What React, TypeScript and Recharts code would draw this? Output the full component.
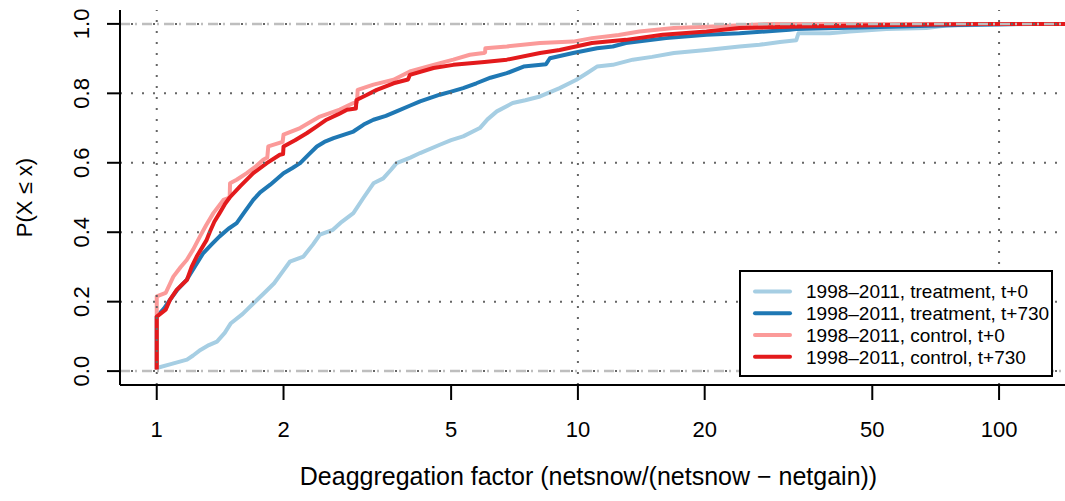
import React from 'react';
import { LineChart, Line, XAxis, YAxis, ReferenceLine, Legend } from 'recharts';

// ---------- data ----------
const treatT0X = [1, 1.08, 1.18, 1.22, 1.27, 1.33, 1.39, 1.45, 1.5, 1.6, 1.7, 1.8, 1.9, 2.0, 2.07, 2.23, 2.35, 2.44, 2.62, 2.75, 2.93, 3.1, 3.27, 3.45, 3.6, 3.71, 4.0, 4.22, 4.7, 5.0, 5.34, 5.85, 6.1, 6.42, 7.0, 7.5, 8.13, 9.05, 9.92, 10.5, 11.1, 12.1, 13.5, 15, 16.9, 20.2, 24.2, 27, 30.2, 33.0, 33.4, 39.6, 44.2, 54, 67.2, 75, 120, 150];
const treatT0P = [0.009, 0.02, 0.033, 0.045, 0.061, 0.075, 0.085, 0.11, 0.138, 0.165, 0.196, 0.225, 0.253, 0.29, 0.315, 0.33, 0.365, 0.393, 0.407, 0.43, 0.455, 0.5, 0.541, 0.555, 0.58, 0.599, 0.615, 0.628, 0.652, 0.665, 0.676, 0.7, 0.725, 0.748, 0.772, 0.78, 0.791, 0.815, 0.839, 0.858, 0.877, 0.882, 0.897, 0.905, 0.916, 0.925, 0.935, 0.94, 0.948, 0.953, 0.973, 0.973, 0.978, 0.985, 0.988, 0.995, 1.0, 1.0];

const treatT730X = [1, 1, 1.04, 1.075, 1.12, 1.178, 1.23, 1.29, 1.35, 1.41, 1.48, 1.548, 1.62, 1.695, 1.76, 1.86, 2.0, 2.1, 2.19, 2.3, 2.4, 2.5, 2.63, 2.93, 3.1, 3.27, 3.5, 3.71, 4.0, 4.22, 4.7, 5.0, 5.34, 5.74, 6.2, 6.78, 7.43, 8.4, 8.58, 9.74, 11.1, 12.1, 13.0, 16.2, 20.2, 24.2, 31.8, 33, 55, 80, 110, 150];
const treatT730P = [0.005, 0.157, 0.18, 0.205, 0.235, 0.263, 0.3, 0.34, 0.365, 0.388, 0.41, 0.426, 0.46, 0.493, 0.515, 0.537, 0.57, 0.585, 0.599, 0.625, 0.647, 0.66, 0.671, 0.69, 0.71, 0.724, 0.735, 0.748, 0.765, 0.777, 0.796, 0.805, 0.815, 0.829, 0.845, 0.858, 0.877, 0.884, 0.901, 0.916, 0.93, 0.935, 0.945, 0.959, 0.969, 0.973, 0.983, 0.985, 0.992, 0.997, 1.0, 1.0];

const ctrlT0X = [1, 1, 1.05, 1.095, 1.14, 1.178, 1.22, 1.267, 1.31, 1.363, 1.44, 1.49, 1.493, 1.548, 1.636, 1.72, 1.79, 1.83, 1.84, 1.99, 2.0, 2.19, 2.3, 2.44, 2.72, 2.93, 2.99, 3.0, 3.27, 3.65, 3.99, 4.54, 5.06, 5.54, 5.97, 6.02, 6.03, 6.78, 8.13, 9.74, 10.8, 12.5, 14.0, 16.9, 20.2, 29, 150];
const ctrlT0P = [0.005, 0.215, 0.225, 0.272, 0.3, 0.32, 0.35, 0.388, 0.42, 0.455, 0.493, 0.5, 0.541, 0.551, 0.57, 0.59, 0.609, 0.615, 0.647, 0.66, 0.681, 0.7, 0.715, 0.733, 0.753, 0.772, 0.775, 0.81, 0.825, 0.839, 0.863, 0.882, 0.897, 0.911, 0.916, 0.918, 0.93, 0.935, 0.945, 0.949, 0.959, 0.968, 0.978, 0.988, 0.992, 1.0, 1.0];

const ctrlT730X = [1, 1, 1.05, 1.075, 1.115, 1.18, 1.21, 1.244, 1.314, 1.338, 1.37, 1.41, 1.45, 1.49, 1.577, 1.695, 1.825, 1.96, 1.995, 2.0, 2.13, 2.27, 2.4, 2.53, 2.7, 2.83, 2.97, 2.98, 3.15, 3.33, 3.65, 3.95, 3.99, 4.54, 5.06, 6.0, 6.78, 8.13, 9.05, 10.8, 13.0, 15.9, 20.2, 24.2, 31.8, 55, 90, 150];
const ctrlT730P = [0.005, 0.157, 0.177, 0.205, 0.234, 0.263, 0.3, 0.33, 0.378, 0.402, 0.43, 0.455, 0.48, 0.5, 0.532, 0.57, 0.599, 0.623, 0.625, 0.647, 0.665, 0.685, 0.705, 0.724, 0.74, 0.753, 0.756, 0.781, 0.795, 0.81, 0.829, 0.84, 0.853, 0.873, 0.882, 0.89, 0.897, 0.916, 0.925, 0.945, 0.954, 0.969, 0.978, 0.988, 0.992, 0.997, 1.0, 1.0];

const seriesNames = [
  '1998–2011, treatment, t+0',
  '1998–2011, treatment, t+730',
  '1998–2011, control, t+0',
  '1998–2011, control, t+730',
];
const seriesColors = ['#a6cee3', '#1f78b4', '#fb9a99', '#e31a1c'];

const xTicks = [1, 2, 5, 10, 20, 50, 100];
const yTicks = [0, 0.2, 0.4, 0.6, 0.8, 1.0];
const gridX = [1, 10, 100];
const gridY = [0, 0.2, 0.4, 0.6, 0.8, 1.0];
const refY = [0, 1];

const X_DOMAIN: [number, number] = [0.818, 143.4];
const Y_DOMAIN: [number, number] = [-0.04, 1.04];

const xTitle = 'Deaggregation factor (netsnow/(netsnow − netgain))';
const yTitle = 'P(X ≤ x)';

const FONT = '"Liberation Sans", Arial, Helvetica, sans-serif';

const toRows = (xs: number[], ps: number[]) => xs.map((x, i) => ({ x, p: ps[i] }));
const seriesData = [
  toRows(treatT0X, treatT0P),
  toRows(treatT730X, treatT730P),
  toRows(ctrlT0X, ctrlT0P),
  toRows(ctrlT730X, ctrlT730P),
];

// ---------- custom pieces ----------
const XTick = (props: any) => {
  const { x, y, payload } = props;
  return (
    <text x={x} y={y + 37} textAnchor="middle" fontFamily={FONT} fontSize={22} fill="#000">
      {payload.value}
    </text>
  );
};

const YTick = (props: any) => {
  const { x, y, payload } = props;
  const bx = x - 18;
  return (
    <text x={bx} y={y} textAnchor="middle" transform={`rotate(-90 ${bx} ${y})`} fontFamily={FONT} fontSize={22} fill="#000">
      {Number(payload.value).toFixed(1)}
    </text>
  );
};

const XTitle = (props: any) => {
  const vb = props.viewBox || { x: 0, y: 0, width: 0, height: 0 };
  return (
    <text x={vb.x + vb.width / 2 - 4} y={vb.y + 100} textAnchor="middle" fontFamily={FONT} fontSize={25} fill="#000">
      {xTitle}
    </text>
  );
};

const YTitle = (props: any) => {
  const vb = props.viewBox || { x: 0, y: 0, width: 0, height: 0 };
  const bx = vb.x + 32;
  const cy = vb.y + vb.height / 2;
  return (
    <text x={bx} y={cy} textAnchor="middle" transform={`rotate(-90 ${bx} ${cy})`} fontFamily={FONT} fontSize={22} fill="#000">
      {yTitle}
    </text>
  );
};

const LegendBox = () => (
  <svg width={314} height={107} style={{ display: 'block' }}>
    <rect x={1} y={1} width={312} height={105} fill="#fff" stroke="#000" strokeWidth={2} />
    {seriesNames.map((name, i) => {
      const ry = 21.6 + i * 21.7;
      return (
        <g key={name}>
          <line x1={16} x2={51} y1={ry} y2={ry} stroke={seriesColors[i]} strokeWidth={4} strokeLinecap="round" />
          <text x={67} y={ry + 6.8} fontFamily={FONT} fontSize={19} fill="#000">
            {name}
          </text>
        </g>
      );
    })}
  </svg>
);

export default function App() {
  return (
    <div style={{ position: 'absolute', left: 0, top: 0, width: 1065, height: 501, background: '#fff' }}>
      <LineChart width={1065} height={501} margin={{ top: 10, right: 0, bottom: 0, left: 0 }}>
        <XAxis
          dataKey="x"
          type="number"
          scale="log"
          domain={X_DOMAIN}
          allowDataOverflow
          ticks={xTicks}
          interval={0}
          height={116}
          tickSize={15}
          tickMargin={0}
          tick={<XTick />}
          tickLine={{ stroke: '#000', strokeWidth: 2 }}
          axisLine={{ stroke: '#000', strokeWidth: 2 }}
          label={<XTitle />}
        />
        <XAxis
          xAxisId="top"
          orientation="top"
          dataKey="x"
          type="number"
          scale="log"
          domain={X_DOMAIN}
          allowDataOverflow
          height={0}
          tick={false}
          tickLine={false}
          axisLine={{ stroke: '#000', strokeWidth: 2 }}
        />
        <YAxis
          dataKey="p"
          type="number"
          domain={Y_DOMAIN}
          allowDataOverflow
          ticks={yTicks}
          interval={0}
          width={120}
          tickSize={13}
          tickMargin={0}
          tick={<YTick />}
          tickLine={{ stroke: '#000', strokeWidth: 2 }}
          axisLine={{ stroke: '#000', strokeWidth: 2 }}
          label={<YTitle />}
        />
        {seriesData.map((d, i) => (
          <Line
            key={seriesNames[i]}
            data={d}
            dataKey="p"
            name={seriesNames[i]}
            type="linear"
            stroke={seriesColors[i]}
            strokeWidth={4}
            strokeLinejoin="round"
            dot={false}
            activeDot={false}
            isAnimationActive={false}
          />
        ))}
        {gridY.map((v) => (
          <ReferenceLine key={'gy' + v} y={v} stroke="#666" strokeWidth={2} strokeDasharray="2 9" />
        ))}
        {gridX.map((v) => (
          <ReferenceLine key={'gx' + v} x={v} stroke="#666" strokeWidth={2} strokeDasharray="2 9" />
        ))}
        {refY.map((v) => (
          <ReferenceLine key={'ry' + v} y={v} stroke="#bebebe" strokeWidth={2.5} strokeDasharray="10 5 2 5" />
        ))}
        <Legend
          layout="vertical"
          align="center"
          verticalAlign="middle"
          content={<LegendBox />}
          wrapperStyle={{ left: 739, top: 270, width: 314, height: 107 }}
        />
      </LineChart>
    </div>
  );
}
